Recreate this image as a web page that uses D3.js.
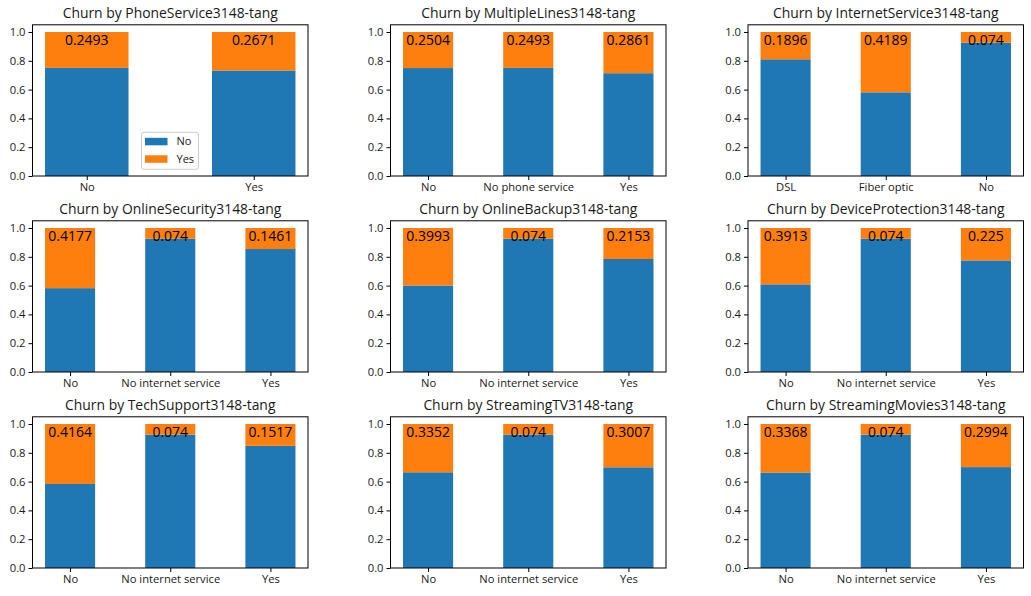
<!DOCTYPE html>
<html>
<head>
<meta charset="utf-8">
<script src="https://cdn.jsdelivr.net/npm/d3@7"></script>
<style>
  html, body { margin: 0; padding: 0; background: #fff; }
  svg { display: block; }
  text { font-family: "Open Sans", "DejaVu Sans", sans-serif; fill: #1a1a1a; }
</style>
</head>
<body>
<svg id="chart" width="1031" height="596"></svg>
<script>
// ---- data ----
const features = ["PhoneService", "MultipleLines", "InternetService",
                  "OnlineSecurity", "OnlineBackup", "DeviceProtection",
                  "TechSupport", "StreamingTV", "StreamingMovies"];
const titleSuffix = "3148-tang";
const categories = [
  ["No", "Yes"],
  ["No", "No phone service", "Yes"],
  ["DSL", "Fiber optic", "No"],
  ["No", "No internet service", "Yes"],
  ["No", "No internet service", "Yes"],
  ["No", "No internet service", "Yes"],
  ["No", "No internet service", "Yes"],
  ["No", "No internet service", "Yes"],
  ["No", "No internet service", "Yes"]
];
// churn rate ("Yes") per category
const churnYes = [
  [0.2493, 0.2671],
  [0.2504, 0.2493, 0.2861],
  [0.1896, 0.4189, 0.074],
  [0.4177, 0.074, 0.1461],
  [0.3993, 0.074, 0.2153],
  [0.3913, 0.074, 0.225],
  [0.4164, 0.074, 0.1517],
  [0.3352, 0.074, 0.3007],
  [0.3368, 0.074, 0.2994]
];
const seriesNames = ["No", "Yes"];
const seriesColors = ["#1f77b4", "#ff7f0e"];
const yTicks = [0, 0.2, 0.4, 0.6, 0.8, 1.0];

// ---- layout ----
const colLeft = [32.5, 390.5, 748];
const rowTop = [24.8, 220.8, 416.8];
const plotW = 275.5, plotH = 151.2;

const svg = d3.select("#chart");

features.forEach((feat, i) => {
  const r = Math.floor(i / 3), c = i % 3;
  const g = svg.append("g").attr("transform", `translate(${colLeft[c]},${rowTop[r]})`);
  const cats = categories[i];
  const n = cats.length;
  const barW = 0.5;
  const lo = -barW / 2, hi = (n - 1) + barW / 2;
  const m = (hi - lo) * 0.05;
  const x = d3.scaleLinear().domain([lo - m, hi + m]).range([0, plotW]);
  const y = d3.scaleLinear().domain([0, 1.05]).range([plotH, 0]);

  const rows = cats.map((cat, j) => ({ cat, j, yes: churnYes[i][j], no: 1 - churnYes[i][j] }));
  const stack = d3.stack().keys(["no", "yes"])(rows);

  stack.forEach((layer, k) => {
    g.append("g").selectAll("rect").data(layer).join("rect")
      .attr("x", d => x(d.data.j - barW / 2))
      .attr("width", d => x(d.data.j + barW / 2) - x(d.data.j - barW / 2))
      .attr("y", d => y(d[1]))
      .attr("height", d => y(d[0]) - y(d[1]))
      .attr("fill", seriesColors[k]);
  });

  // value labels
  g.append("g").selectAll("text").data(rows).join("text")
    .attr("x", d => x(d.j))
    .attr("y", y(1.0))
    .attr("dy", "0.95em")
    .attr("text-anchor", "middle")
    .style("font-size", "14px")
    .style("fill", "#000")
    .text(d => String(d.yes));

  // axes
  const xAxis = d3.axisBottom(x).tickValues(d3.range(n)).tickFormat(j => cats[j])
    .tickSize(4).tickPadding(3.5);
  const yAxis = d3.axisLeft(y).tickValues(yTicks).tickFormat(d3.format(".1f"))
    .tickSize(4).tickPadding(3);
  const gx = g.append("g").attr("transform", `translate(0,${plotH})`).call(xAxis);
  const gy = g.append("g").call(yAxis);
  [gx, gy].forEach(a => {
    a.select(".domain").remove();
    a.selectAll("line").attr("stroke", "#000").attr("stroke-width", 1);
    a.selectAll("text").style("font-size", "11.2px").style("font-family", "'Open Sans', sans-serif").attr("fill", "#1a1a1a");
  });

  // frame
  g.append("rect").attr("x", 0).attr("y", 0).attr("width", plotW).attr("height", plotH)
    .attr("fill", "none").attr("stroke", "#000").attr("stroke-width", 1);

  // title
  g.append("text").attr("x", plotW / 2).attr("y", -7)
    .attr("text-anchor", "middle").style("font-size", "13.9px")
    .text(`Churn by ${feat}${titleSuffix}`);

  // legend in first panel
  if (i === 0) {
    const lg = g.append("g").attr("transform", `translate(${109},${107.5})`);
    lg.append("rect").attr("width", 57).attr("height", 37).attr("rx", 2.5)
      .attr("fill", "#fff").attr("fill-opacity", 0.8).attr("stroke", "#cccccc");
    seriesNames.forEach((s, k) => {
      lg.append("rect").attr("x", 3.5).attr("y", 5.5 + k * 17.5).attr("width", 22.5).attr("height", 7.5)
        .attr("fill", seriesColors[k]);
      lg.append("text").attr("x", 35).attr("y", 9.3 + k * 17.5).attr("dy", "0.35em")
        .style("font-size", "11px").text(s);
    });
  }
});
</script>
</body>
</html>
